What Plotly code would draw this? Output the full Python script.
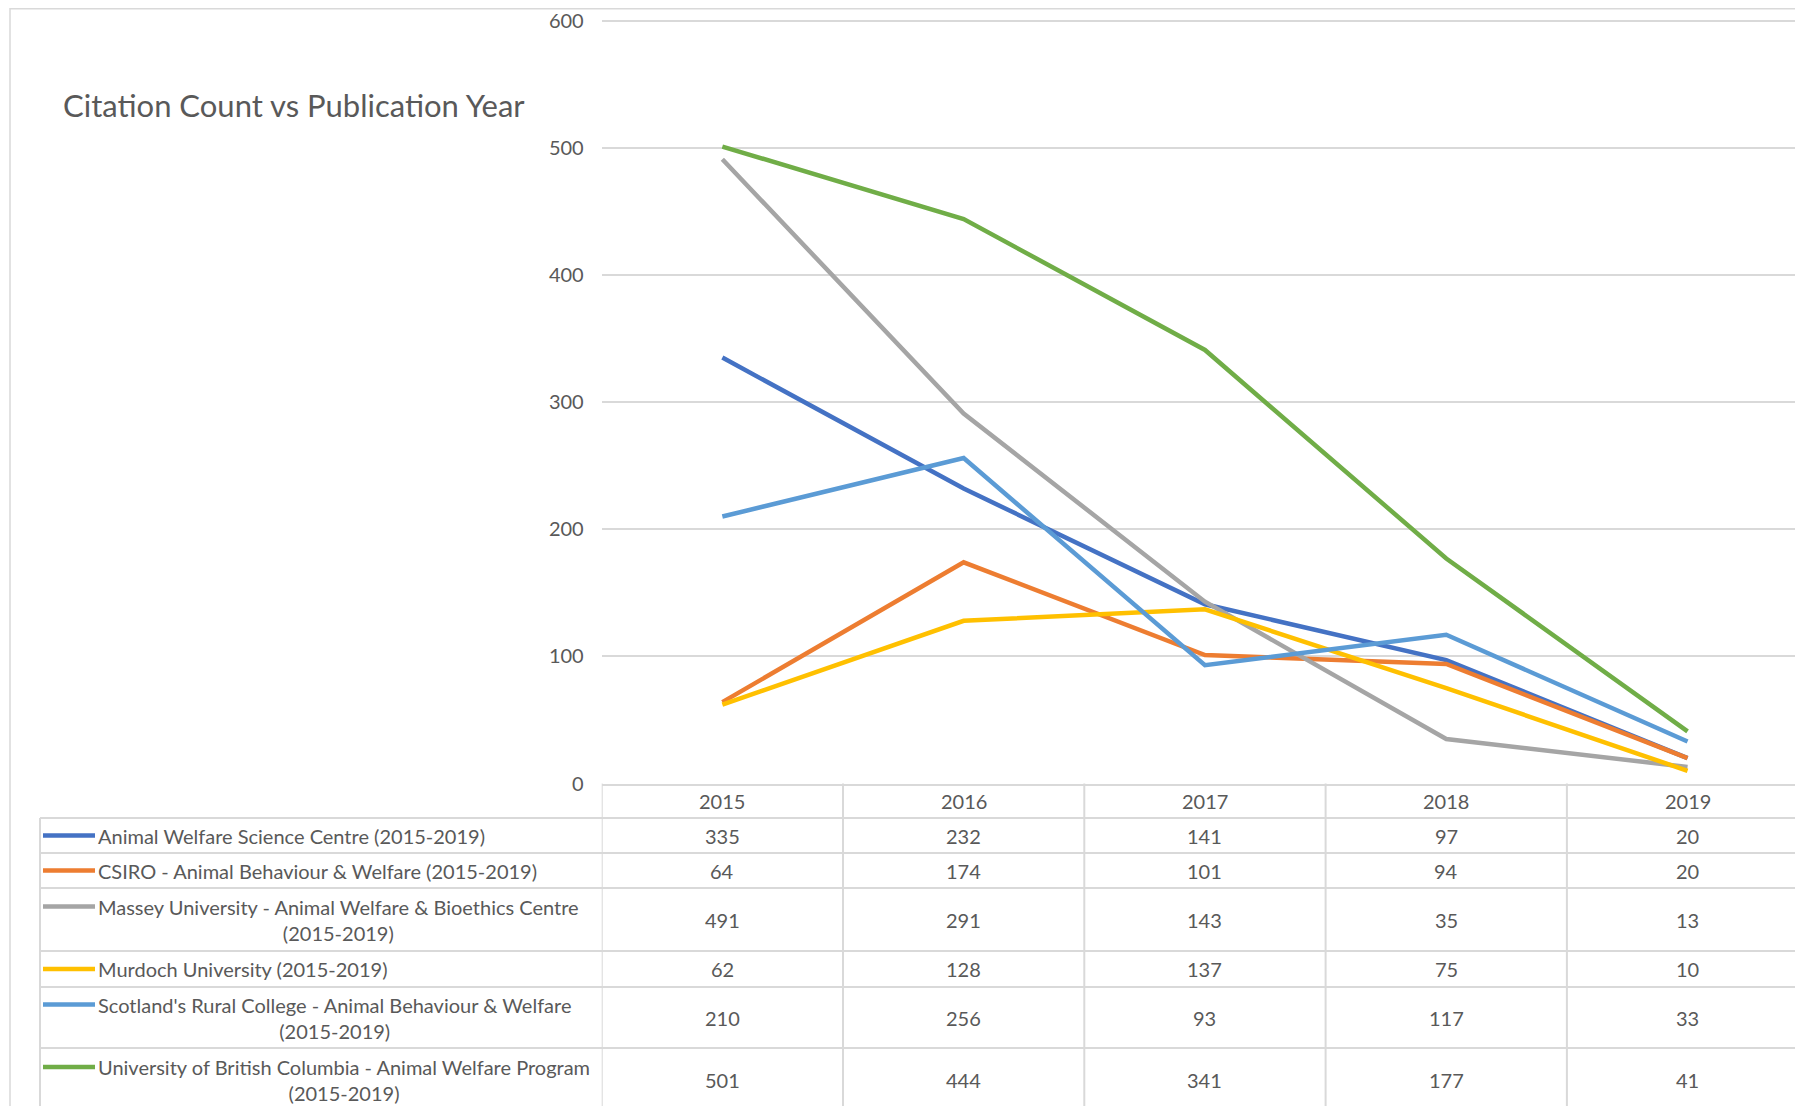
import plotly.graph_objects as go

years = [2015, 2016, 2017, 2018, 2019]
year_labels = ["2015", "2016", "2017", "2018", "2019"]

names = [
    "Animal Welfare Science Centre (2015-2019)",
    "CSIRO - Animal Behaviour & Welfare (2015-2019)",
    "Massey University - Animal Welfare & Bioethics Centre<br>(2015-2019)",
    "Murdoch University (2015-2019)",
    "Scotland's Rural College - Animal Behaviour & Welfare<br>(2015-2019)",
    "University of British Columbia - Animal Welfare Program<br>(2015-2019)",
]
awsc = [335, 232, 141, 97, 20]
csiro = [64, 174, 101, 94, 20]
massey = [491, 291, 143, 35, 13]
murdoch = [62, 128, 137, 75, 10]
sruc = [210, 256, 93, 117, 33]
ubc = [501, 444, 341, 177, 41]
series = [awsc, csiro, massey, murdoch, sruc, ubc]
colors = ["#4472C4", "#ED7D31", "#A5A5A5", "#FFC000", "#5B9BD5", "#70AD47"]
y_ticks = [0, 100, 200, 300, 400, 500, 600]

# figure placed at the 8px body margin, reaching the window's right/bottom edges
W, H = 1795, 1098
OFFX, OFFY = 8, 8
FONT = "Lato, 'Open Sans', sans-serif"
TXT = "#595959"
GRID = "#D9D9D9"


def px(X):  # screen x -> paper
    return (X - OFFX) / W


def py(Y):  # screen y -> paper
    return 1 - (Y - OFFY) / H


# layout geometry in screen pixels
plot_left = 601.7
band = 241.3
y600, y0 = 20.7, 783.5
ymax = 606  # small headroom so the 600 gridline is not clipped at the edge
y_top = y0 - (y0 - y600) * ymax / 600
table_left = 40
row_edges = [818, 853, 888, 951, 987, 1048, 1112]
key_x0, key_x1, label_x = 43, 95, 96

fig = go.Figure()
for name, vals, col in zip(names, series, colors):
    fig.add_trace(go.Scatter(
        x=years, y=vals, mode="lines", name=name.replace("<br>", " "),
        line=dict(color=col, width=4.5), showlegend=False, hoverinfo="skip",
    ))

shapes = []
annotations = []

# chart area border
shapes.append(dict(type="rect", xref="paper", yref="paper",
                   x0=px(10), x1=1.05, y0=-0.05, y1=py(8.7),
                   line=dict(color=GRID, width=1.5)))

# data table: vertical separators (category band edges of the x axis)
for i in range(len(years) + 1):
    shapes.append(dict(type="line", xref="x", yref="paper",
                       x0=years[0] - 0.5 + i, x1=years[0] - 0.5 + i,
                       y0=-0.05, y1=py(y0),
                       line=dict(color=GRID, width=2)))
# left border of legend column
shapes.append(dict(type="line", xref="paper", yref="paper",
                   x0=px(table_left), x1=px(table_left),
                   y0=-0.05, y1=py(row_edges[0]),
                   line=dict(color=GRID, width=2)))
# horizontal row separators
for yy in row_edges[:-1]:
    shapes.append(dict(type="line", xref="paper", yref="paper",
                       x0=px(table_left), x1=1.05, y0=py(yy), y1=py(yy),
                       line=dict(color=GRID, width=2)))

# header (years)
for yr, lab in zip(years, year_labels):
    annotations.append(dict(text=lab, xref="x", yref="paper", x=yr,
                            y=py((y0 + row_edges[0]) / 2), xanchor="center",
                            yanchor="middle", showarrow=False,
                            font=dict(family=FONT, size=20, color=TXT)))

# rows
for r, (name, vals, col) in enumerate(zip(names, series, colors)):
    top, bot = row_edges[r], row_edges[r + 1]
    mid = (top + bot) / 2
    nlines = name.count("<br>") + 1
    key_y = mid - (nlines - 1) * 13
    shapes.append(dict(type="line", xref="paper", yref="paper",
                       x0=px(key_x0), x1=px(key_x1),
                       y0=py(key_y), y1=py(key_y),
                       line=dict(color=col, width=4.5)))
    annotations.append(dict(text=name, xref="paper", yref="paper",
                            x=px(label_x), y=py(mid), xanchor="left",
                            yanchor="middle", align="center", showarrow=False,
                            font=dict(family=FONT, size=20, color=TXT)))
    for yr, v in zip(years, vals):
        annotations.append(dict(text=str(v), xref="x", yref="paper", x=yr,
                                y=py(mid), xanchor="center", yanchor="middle",
                                showarrow=False,
                                font=dict(family=FONT, size=20, color=TXT)))

# title
annotations.append(dict(
    text="Citation Count vs Publication Year", xref="paper", yref="paper",
    x=px(61), y=py(104.6), xanchor="left", yanchor="middle",
    showarrow=False, font=dict(family=FONT, size=31, color=TXT),
))

fig.update_layout(
    width=W, height=H,
    margin=dict(l=0, r=0, t=0, b=0, pad=0),
    paper_bgcolor="white", plot_bgcolor="white",
    font=dict(family=FONT, color=TXT),
    xaxis=dict(
        domain=[px(plot_left), 1],
        range=[years[0] - 0.5, years[0] - 0.5 + (W + OFFX - plot_left) / band],
        showticklabels=False, showgrid=False, zeroline=False,
        showline=True, linecolor=GRID, linewidth=2, ticks="",
        automargin=False,
    ),
    yaxis=dict(
        domain=[py(y0), py(y_top)],
        range=[0, ymax], tickmode="array", tickvals=y_ticks,
        ticktext=[str(t) for t in y_ticks],
        showgrid=True, gridcolor=GRID, gridwidth=1.5,
        zeroline=False, showline=False, ticks="",
        tickfont=dict(family=FONT, size=20, color=TXT),
        ticklabelstandoff=17, ticklabeloverflow="allow",
        automargin=False,
    ),
    shapes=shapes,
    annotations=annotations,
)

fig.write_html("out.html")
